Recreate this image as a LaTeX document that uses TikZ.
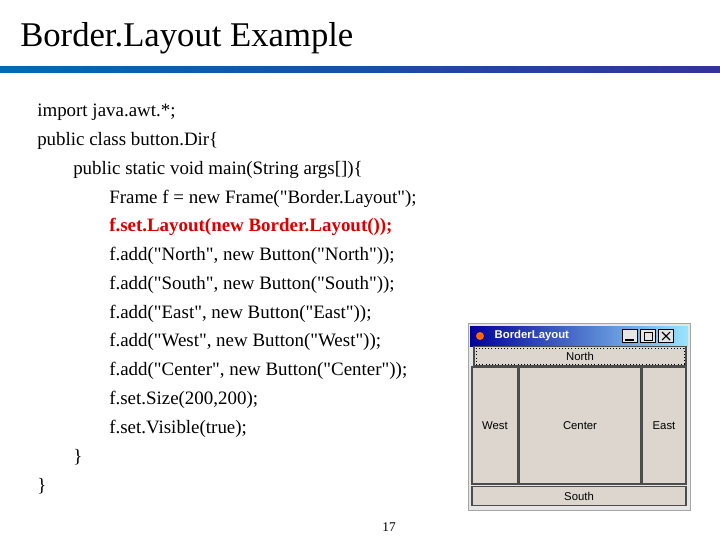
\documentclass[tikz,border=0pt]{standalone}
\usepackage{fontspec}
\setmainfont{Liberation Serif}[Ligatures=TeXOff]
\newfontfamily\uifont{Liberation Sans}
\begin{document}
\begin{tikzpicture}[x=0.75pt,y=-0.75pt,
 code/.style={anchor=west,inner sep=0pt,font=\fontsize{14.2}{16}\selectfont},
 btn/.style={draw=gray!60!black,fill=gray!25!white!90!brown,line width=0.8pt,font=\uifont\fontsize{8.5}{10}\selectfont,inner sep=0pt}]
\path[use as bounding box] (0,0) rectangle (720,540);
\node[anchor=west,inner sep=0pt,font=\fontsize{26}{30}\selectfont] (title) at (20,38) {Border.Layout Example};
\shade[left color=blue!40!cyan!70!black,right color=blue!50!black!80] (0,66) rectangle (720,72);
\foreach \t/\x/\y [count=\i] in {{import java.awt.*;}/37/112,{public class button.Dir\{}/37/141,{public static void main(String args[])\{}/73/170,{Frame f = new Frame("Border.Layout");}/109/199,{f.add("North", new Button("North"));}/109/256,{f.add("South", new Button("South"));}/109/285,{f.add("East", new Button("East"));}/109/314,{f.add("West", new Button("West"));}/109/342,{f.add("Center", new Button("Center"));}/109/371,{f.set.Size(200,200);}/109/400,{f.set.Visible(true);}/109/429,{\}}/73/457,{\}}/37/486}
  \node[code] (c\i) at (\x,\y) {\t};
\node[code,text=red!85!black,font=\bfseries\fontsize{14.2}{16}\selectfont] (cred) at (109,227) {f.set.Layout(new Border.Layout());};
\node[font=\fontsize{10}{12}\selectfont] (pg) at (389,527) {17};
% window
\draw[gray!70,fill=gray!20] (468,323) rectangle (690,510);
\shade[left color=blue!60!black,right color=blue!25!cyan!40] (470,326) rectangle (688,346);
\node[anchor=west,text=white,font=\uifont\bfseries\fontsize{8.5}{10}\selectfont] (wt) at (490,336) {BorderLayout};
\fill[orange!80!red] (480,336) circle (4);
\foreach \bx/\s in {630/b1,648/b2,666/b3}
  \node[draw=black,fill=gray!20,minimum width=11.5pt,minimum height=10pt,inner sep=0pt] (\s) at (\bx,336) {};
\draw[thick] (625,340) -- (634,340);
\draw (644,332) rectangle (652,340);
\draw[thick] (662,332) -- (670,340) (662,340) -- (670,332);
\node[btn,minimum width=159pt,minimum height=14.25pt] (north) at (580,356) {North};
\draw[dotted] (476,348) rectangle (684,364);
\node[btn,minimum width=34.5pt,minimum height=87.75pt] (west) at (495,425.5) {West};
\node[btn,minimum width=91.5pt,minimum height=87.75pt] (center) at (580,425.5) {Center};
\node[btn,minimum width=33pt,minimum height=87.75pt] (east) at (664,425.5) {East};
\node[btn,minimum width=160.5pt,minimum height=14.25pt] (south) at (579,496) {South};
\end{tikzpicture}
\end{document}
